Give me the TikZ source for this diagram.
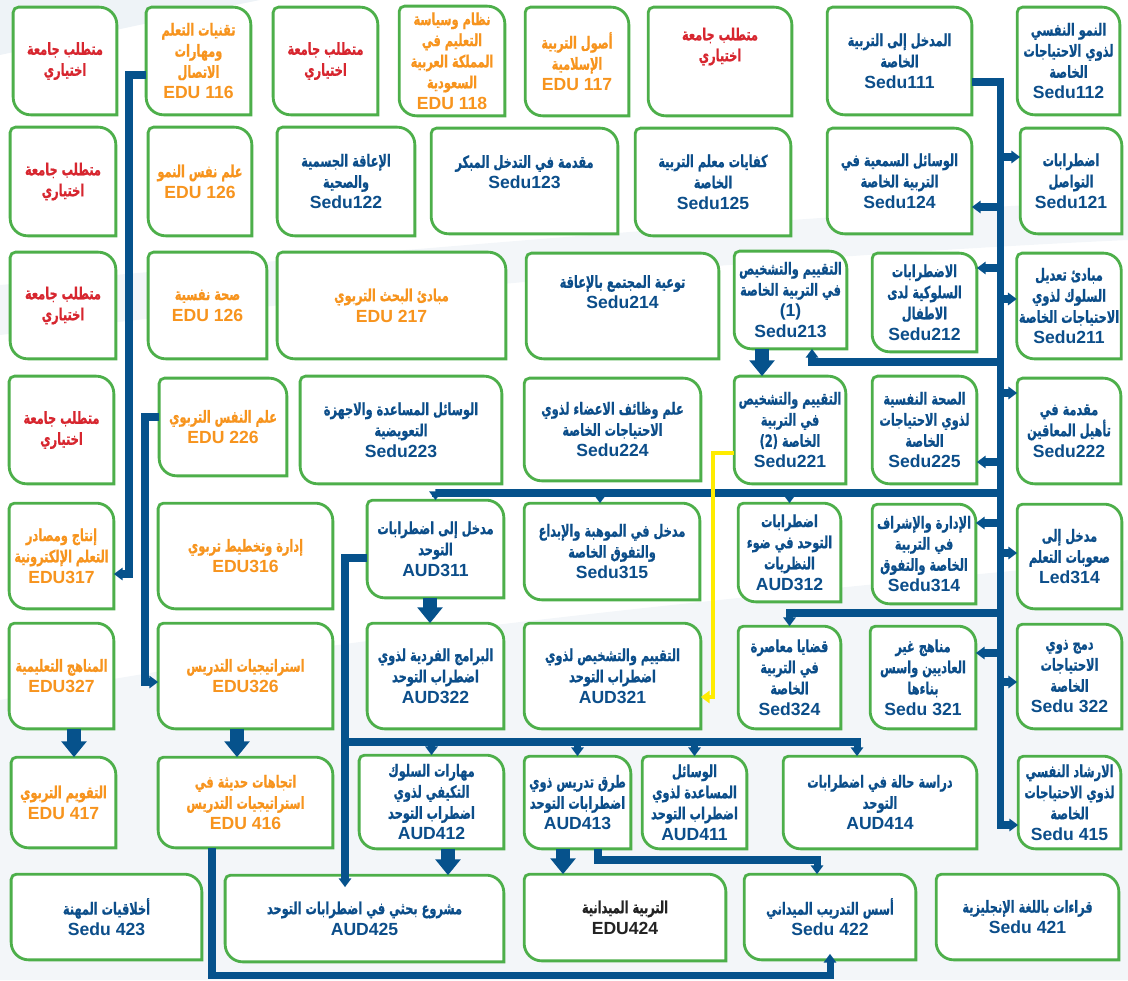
\documentclass[tikz,border=0pt]{standalone}
\usepackage{fontspec}
\setmainfont{Liberation Sans}
\newfontfamily\arabicfont[Script=Arabic, FakeStretch=0.68, BoldFeatures={FakeBold=0.7}]{DejaVu Sans}
\TeXXeTstate=1
\usetikzlibrary{arrows.meta,positioning,calc,backgrounds}

\definecolor{boxgreen}{RGB}{77,175,74}
\definecolor{codeblue}{RGB}{12,78,138}
\definecolor{eduorange}{RGB}{247,148,30}
\definecolor{reqred}{RGB}{215,38,47}
\definecolor{lineblue}{RGB}{6,82,140}
\definecolor{flowyellow}{RGB}{255,236,0}
\definecolor{darktext}{RGB}{35,35,35}

\newcommand{\ar}[1]{{\arabicfont\fontsize{9.5}{12}\selectfont\beginR#1\endR}}
\newcommand{\lift}[1]{\vrule width 0pt height 0pt depth #1}

\tikzset{
    course/.style={
        rectangle,
        align=center,
        text=codeblue,
        inner sep=1pt,
        font=\bfseries\fontsize{10}{12}\selectfont,
    },
    boxsize/.style 2 args={
        minimum width=(#1-3)*0.02cm,
        minimum height=(#2-3)*0.02cm,
    },
    elective/.style={course, text=reqred},
    edu/.style={course, text=eduorange},
    frame/.style={draw=boxgreen, fill=white, line width=1.6pt},
    flow/.style={draw=lineblue, line width=4pt},
    yflow/.style={draw=flowyellow, line width=2.8pt},
    block/.style={
        draw=lineblue,
        line width=8pt,
        -{Triangle[width=14pt,length=9pt]},
    },
}

\begin{document}
\begin{tikzpicture}[x=0.02cm, y=-0.02cm, >={Triangle[width=7pt,length=5pt]}]
    \useasboundingbox (0,0) rectangle (1128,980);

    % first year
    \node[elective, boxsize={106}{110}] (opt1) at (65,61) {\ar{متطلب جامعة}\\\ar{اختياري}};
    \node[edu, boxsize={107}{110}] (EDU116) at (198.5,61) {\ar{تقنيات التعلم}\\\ar{ومهارات}\\\ar{الاتصال}\\EDU 116};
    \node[elective, boxsize={107}{110}] (opt2) at (325.5,61) {\ar{متطلب جامعة}\\\ar{اختياري}};
    \node[edu, boxsize={108}{112}] (EDU118) at (452,61) {\ar{نظام وسياسة}\\\ar{التعليم في}\\\ar{المملكة العربية}\\\ar{السعودية}\\EDU 118};
    \node[edu, boxsize={106}{111}] (EDU117) at (577,61.5) {\ar{أصول التربية}\\\ar{الإسلامية}\\EDU 117};
    \node[elective, boxsize={146}{111}] (opt3) at (720,61.5) {\ar{متطلب جامعة}\\\ar{اختياري}\lift{0.68cm}};
    \node[course, boxsize={147}{110}] (Sedu111) at (899.5,61) {\ar{المدخل إلى التربية}\\\ar{الخاصة}\\Sedu111};
    \node[course, boxsize={105}{110}] (Sedu112) at (1068.5,61) {\ar{النمو النفسي}\\\ar{لذوي الاحتياجات}\\\ar{الخاصة}\\Sedu112};

    \node[elective, boxsize={108}{111}] (opt4) at (63,181.5) {\ar{متطلب جامعة}\\\ar{اختياري}};
    \node[edu, boxsize={106}{111}] (EDU126a) at (200,181.5) {\ar{علم نفس النمو}\\EDU 126};
    \node[course, boxsize={140}{111}] (Sedu122) at (346,181.5) {\ar{الإعاقة الجسمية}\\\ar{والصحية}\\Sedu122};
    \node[course, boxsize={189}{108}] (Sedu123) at (524.5,181) {\ar{مقدمة في التدخل المبكر}\\Sedu123\lift{0.36cm}};
    \node[course, boxsize={158}{110}] (Sedu125) at (713,182) {\ar{كفايات معلم التربية}\\\ar{الخاصة}\\Sedu125};
    \node[course, boxsize={147}{108}] (Sedu124) at (899.5,181) {\ar{الوسائل السمعية في}\\\ar{التربية الخاصة}\\Sedu124};
    \node[course, boxsize={104}{108}] (Sedu121) at (1071,181) {\ar{اضطرابات}\\\ar{التواصل}\\Sedu121};

    % second year
    \node[elective, boxsize={108}{109}] (opt5) at (63,305.5) {\ar{متطلب جامعة}\\\ar{اختياري}};
    \node[edu, boxsize={121}{109}] (EDU126b) at (207.5,305.5) {\ar{صحة نفسية}\\EDU 126};
    \node[edu, boxsize={231}{109}] (EDU217) at (391.5,305.5) {\ar{مبادئ البحث التربوي}\\EDU 217};
    \node[course, boxsize={195}{108}] (Sedu214) at (622.5,306) {\ar{توعية المجتمع بالإعاقة}\\Sedu214\lift{0.56cm}};
    \node[course, boxsize={115}{100}] (Sedu213) at (790.5,300) {\ar{التقييم والتشخيص}\\\ar{في التربية الخاصة}\\(1)\\Sedu213};
    \node[course, boxsize={107}{101}] (Sedu212) at (924.5,302.5) {\ar{الاضطرابات}\\\ar{السلوكية لدى}\\\ar{الاطفال}\\Sedu212};
    \node[course, boxsize={106}{108}] (Sedu211) at (1069,306) {\ar{مبادئ تعديل}\\\ar{السلوك لذوي}\\\ar{الاحتياجات الخاصة}\\Sedu211};

    \node[elective, boxsize={107}{110}] (opt6) at (61.5,430) {\ar{متطلب جامعة}\\\ar{اختياري}};
    \node[edu, boxsize={130}{100}] (EDU226) at (223,427) {\ar{علم النفس التربوي}\\EDU 226};
    \node[course, boxsize={204}{110}] (Sedu223) at (401,430) {\ar{الوسائل المساعدة والاجهزة}\\\ar{التعويضية}\\Sedu223};
    \node[course, boxsize={179}{105}] (Sedu224) at (612.5,429.5) {\ar{علم وظائف الاعضاء لذوي}\\\ar{الاحتياجات الخاصة}\\Sedu224};
    \node[course, boxsize={114}{110}] (Sedu221) at (790,430) {\ar{التقييم والتشخيص}\\\ar{في التربية}\\\ar{الخاصة (2)}\\Sedu221};
    \node[course, boxsize={107}{110}] (Sedu225) at (924.5,430) {\ar{الصحة النفسية}\\\ar{لذوي الاحتياجات}\\\ar{الخاصة}\\Sedu225};
    \node[course, boxsize={106}{108}] (Sedu222) at (1069,431) {\ar{مقدمة في}\\\ar{تأهيل المعاقين}\\Sedu222};

    % third year
    \node[edu, boxsize={107}{108}] (EDU317) at (61.5,556) {\ar{إنتاج ومصادر}\\\ar{التعلم الإلكترونية}\\EDU317};
    \node[edu, boxsize={177}{108}] (EDU316) at (245.5,556) {\ar{إدارة وتخطيط تربوي}\\EDU316};
    \node[course, boxsize={139}{100}] (AUD311) at (435.5,549) {\ar{مدخل إلى اضطرابات}\\\ar{التوحد}\\AUD311};
    \node[course, boxsize={178}{99}] (Sedu315) at (612,551.5) {\ar{مدخل في الموهبة والإبداع}\\\ar{والتفوق الخاصة}\\Sedu315};
    \node[course, boxsize={105}{101}] (AUD312) at (789.5,552.5) {\ar{اضطرابات}\\\ar{التوحد في ضوء}\\\ar{النظريات}\\AUD312};
    \node[course, boxsize={106}{102}] (Sedu314) at (924,554) {\ar{الإدارة والإشراف}\\\ar{في التربية}\\\ar{الخاصة والتفوق}\\Sedu314};
    \node[course, boxsize={107}{107}] (Led314) at (1069.5,556.5) {\ar{مدخل إلى}\\\ar{صعوبات التعلم}\\Led314};

    \node[edu, boxsize={107}{108}] (EDU327) at (61.5,676) {\ar{المناهج التعليمية}\\EDU327};
    \node[edu, boxsize={177}{108}] (EDU326) at (245.5,676) {\ar{استراتيجيات التدريس}\\EDU326};
    \node[course, boxsize={139}{108}] (AUD322) at (435.5,676) {\ar{البرامج الفردية لذوي}\\\ar{اضطراب التوحد}\\AUD322};
    \node[course, boxsize={179}{108}] (AUD321) at (612.5,676) {\ar{التقييم والتشخيص لذوي}\\\ar{اضطراب التوحد}\\AUD321};
    \node[course, boxsize={105}{105}] (Sed324) at (789.5,677.5) {\ar{قضايا معاصرة}\\\ar{في التربية}\\\ar{الخاصة}\\Sed324};
    \node[course, boxsize={108}{105}] (Sedu321) at (923,677.5) {\ar{مناهج غير}\\\ar{العاديين واسس}\\\ar{بناءها}\\Sedu 321};
    \node[course, boxsize={107}{107}] (Sedu322) at (1069.5,676.5) {\ar{دمج ذوي}\\\ar{الاحتياجات}\\\ar{الخاصة}\\Sedu 322};

    % fourth year
    \node[edu, boxsize={107}{93}] (EDU417) at (63.5,802.5) {\ar{التقويم التربوي}\\EDU 417};
    \node[edu, boxsize={177}{93}] (EDU416) at (245.5,802.5) {\ar{اتجاهات حديثة في}\\\ar{استراتيجيات التدريس}\\EDU 416};
    \node[course, boxsize={147}{96}] (AUD412) at (431.5,802) {\ar{مهارات السلوك}\\\ar{التكيفي لذوي}\\\ar{اضطراب  التوحد}\\AUD412};
    \node[course, boxsize={109}{95}] (AUD413) at (577.5,802.5) {\ar{طرق تدريس ذوي}\\\ar{اضطرابات التوحد}\\AUD413};
    \node[course, boxsize={107}{95}] (AUD411) at (694.5,802.5) {\ar{الوسائل}\\\ar{المساعدة لذوي}\\\ar{اضطراب التوحد}\\AUD411};
    \node[course, boxsize={196}{95}] (AUD414) at (880,802.5) {\ar{دراسة حالة في اضطرابات}\\\ar{التوحد}\\AUD414};
    \node[course, boxsize={105}{95}] (Sedu415) at (1069.5,802.5) {\ar{الارشاد النفسي}\\\ar{لذوي الاحتياجات}\\\ar{الخاصة}\\Sedu 415};

    \node[course, boxsize={193}{88}] (Sedu423) at (106.5,917) {\ar{أخلاقيات المهنة}\\Sedu 423};
    \node[course, boxsize={281}{89}] (AUD425) at (364.5,918.5) {\ar{مشروع بحثي في اضطرابات التوحد}\\AUD425};
    \node[course, text=darktext, boxsize={204}{89}] (EDU424) at (625,917.5) {\ar{التربية الميدانية}\\EDU424};
    \node[course, boxsize={174}{88}] (Sedu422) at (830,917) {\ar{أسس التدريب الميداني}\\Sedu 422};
    \node[course, boxsize={185}{88}] (Sedu421) at (1027.5,917) {\ar{قراءات باللغة الإنجليزية}\\Sedu 421};

    \begin{scope}[on background layer]
        % background swooshes
        \fill[lineblue!7] (0,0) -- (260,0) .. controls (160,20) and (70,40) .. (0,55) -- cycle;
        \fill[lineblue!5] (0,285) .. controls (400,250) and (800,215) .. (1128,200) -- (1128,240) .. controls (800,255) and (400,290) .. (0,335) -- cycle;
        \fill[lineblue!5] (0,700) .. controls (300,640) and (700,600) .. (1128,560) -- (1128,980) -- (0,980) -- cycle;
        % course frames, round diagonal corners
        \foreach \n in {opt1,EDU116,opt2,EDU118,EDU117,opt3,Sedu111,Sedu112,
            opt4,EDU126a,Sedu122,Sedu123,Sedu125,Sedu124,Sedu121,
            opt5,EDU126b,EDU217,Sedu214,Sedu213,Sedu212,Sedu211,
            opt6,EDU226,Sedu223,Sedu224,Sedu221,Sedu225,Sedu222,
            EDU317,EDU316,AUD311,Sedu315,AUD312,Sedu314,Led314,
            EDU327,EDU326,AUD322,AUD321,Sed324,Sedu321,Sedu322,
            EDU417,EDU416,AUD412,AUD413,AUD411,AUD414,Sedu415,
            Sedu423,AUD425,EDU424,Sedu422,Sedu421}
        {
            \draw[frame] ([xshift=3pt]\n.north west) -- ([xshift=-10pt]\n.north east)
                arc[start angle=90, end angle=0, radius=10pt] -- (\n.south east)
                -- ([xshift=10pt]\n.south west) arc[start angle=270, end angle=180, radius=10pt]
                -- ([yshift=-3pt]\n.north west) arc[start angle=180, end angle=90, radius=3pt] -- cycle;
        }
    \end{scope}

    % junctions
    \coordinate (j111) at (1000,82);
    \coordinate (j121) at (1000,157);
    \coordinate (j124) at (1000,207);
    \coordinate (j212) at (1000,268);
    \coordinate (j211) at (1000,299);
    \coordinate (j213) at (1000,362);
    \coordinate (j222) at (1000,393);
    \coordinate (j225) at (1000,462);
    \coordinate (j3) at (1000,493);
    \coordinate (j314) at (1000,523);
    \coordinate (jLed) at (1000,553);
    \coordinate (j324) at (1000,613);
    \coordinate (j321) at (1000,653);
    \coordinate (j322) at (1000,682);
    \coordinate (j415) at (1000,825);
    \coordinate (k0) at (345,558);
    \coordinate (k1) at (345,742);
    \coordinate (e1) at (129,574);
    \coordinate (e2) at (145,682);
    \coordinate (yb) at (713,697);
    \coordinate (a1) at (598,860);
    \coordinate (b1) at (212,975);

    % main trunk
    \draw[flow,->] (j111 -| Sedu111.east) -- (j111) -- (j415) -- (j415 -| Sedu415.west);
    \draw[flow,->] (j121) -- (j121 -| Sedu121.west);
    \draw[flow,->] (j124) -- (j124 -| Sedu124.east);
    \draw[flow,->] (j212) -- (j212 -| Sedu212.east);
    \draw[flow,->] (j211) -- (j211 -| Sedu211.west);
    \draw[flow,->] (j213) -| ([xshift=.43cm]Sedu213.south);
    \draw[flow,->] (j222) -- (j222 -| Sedu222.west);
    \draw[flow,->] (j225) -- (j225 -| Sedu225.east);
    \draw[flow,->] (j3) -| (AUD311.north);
    \draw[flow,->] (j3 -| AUD312.north) -- (AUD312.north);
    \draw[flow,->] ([xshift=-.24cm]j3 -| Sedu315.north) -- ([xshift=-.24cm]Sedu315.north);
    \draw[flow,->] (j314) -- (j314 -| Sedu314.east);
    \draw[flow,->] (jLed) -- (jLed -| Led314.west);
    \draw[flow,->] (j324) -| (Sed324.north);
    \draw[flow,->] (j321) -- (j321 -| Sedu321.east);
    \draw[flow,->] (j322) -- (j322 -| Sedu322.west);

    % autism track
    \draw[flow,->] (k0 -| AUD311.west) -- (k0) -- ([yshift=-.24cm]k0 |- AUD425.north);
    \draw[flow,->] (k1) -| ([xshift=-.46cm]AUD414.north);
    \draw[flow,->] (k1 -| AUD412.north) -- (AUD412.north);
    \draw[flow,->] (k1 -| AUD413.north) -- (AUD413.north);
    \draw[flow,->] (k1 -| AUD411.north) -- (AUD411.north);
    \draw[flow,->] (a1 |- AUD413.south) -- (a1) -| ([xshift=-.26cm]Sedu422.north);
    \draw[flow,->] (b1 |- EDU416.south) -- (b1) -| ([yshift=.12cm]Sedu422.south);
    \draw[yflow,->] ([yshift=-.46cm]Sedu221.west) -| (yb) -- (yb -| AUD321.east);

    % education track
    \draw[flow,->] ([yshift=-.28cm]EDU116.west) -| (e1) -- (e1 -| EDU317.east);
    \draw[flow,->] ([yshift=.2cm]EDU226.west) -| (e2) -- (e2 -| EDU326.west);

    % block arrows
    \draw[block] ([xshift=.25cm]EDU327.south) -- ([xshift=.25cm]EDU327.south |- EDU417.north);
    \draw[block] ([xshift=-.17cm]EDU326.south) -- ([xshift=-.17cm]EDU326.south |- EDU416.north);
    \draw[block] ([xshift=-.11cm]AUD311.south) -- ([xshift=-.11cm]AUD311.south |- AUD322.north);
    \draw[block] ([xshift=-.57cm]Sedu213.south) -- ([xshift=-.57cm]Sedu213.south |- Sedu221.north);
    \draw[block] ([xshift=.33cm]AUD412.south) -- ([xshift=.33cm]AUD412.south |- AUD425.north);
    \draw[block] ([xshift=-.29cm]AUD413.south) -- ([xshift=-.29cm]AUD413.south |- EDU424.north);
\end{tikzpicture}
\end{document}
